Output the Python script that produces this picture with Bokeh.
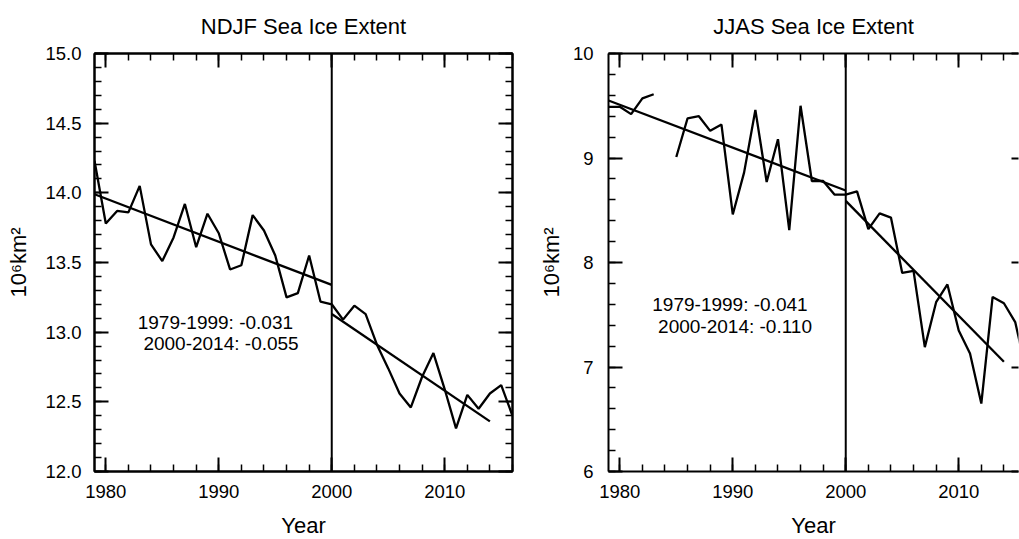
import numpy as np
from bokeh.plotting import figure
from bokeh.layouts import row
from bokeh.models import (LinearAxis, FixedTicker, Span, Label, Range1d,
                          PrintfTickFormatter, CustomLabelingPolicy)
from bokeh.embed import file_html
from bokeh.resources import INLINE

# ---------------- data ----------------
years = list(range(1979, 2017))
ndjf_extent = [14.23, 13.78, 13.87, 13.86, 14.05, 13.63, 13.51, 13.68, 13.92, 13.61,
               13.85, 13.71, 13.45, 13.48, 13.84, 13.73, 13.55, 13.25, 13.28, 13.55,
               13.22, 13.20, 13.09, 13.19, 13.13, 12.91, 12.74, 12.56, 12.46, 12.68,
               12.85, 12.59, 12.31, 12.55, 12.45, 12.56, 12.62, 12.40]
jjas_extent = [9.49, 9.49, 9.42, 9.57, 9.61, np.nan, 9.01, 9.38, 9.40, 9.26,
               9.32, 8.46, 8.86, 9.46, 8.77, 9.18, 8.31, 9.50, 8.78, 8.78,
               8.65, 8.65, 8.68, 8.32, 8.47, 8.43, 7.90, 7.92, 7.19, 7.62,
               7.79, 7.35, 7.13, 6.65, 7.67, 7.61, 7.43, 6.95]

split_year = 2000
period_labels = ["1979-1999", "2000-2014"]
trend_start = [1979, 2000]
trend_end = [2000, 2014]
ndjf_trend_y0 = [13.99, 13.13]
ndjf_trend_slope = [-0.031, -0.055]
jjas_trend_y0 = [9.55, 8.59]
jjas_trend_slope = [-0.041, -0.110]

titles = ["NDJF Sea Ice Extent", "JJAS Sea Ice Extent"]
x_ticks = [1980, 1990, 2000, 2010]
x_minor = list(range(1980, 2017, 2))
ndjf_y_ticks = [12.0, 12.5, 13.0, 13.5, 14.0, 14.5, 15.0]
ndjf_y_minor = [round(12.0 + 0.1 * i, 1) for i in range(31)]
jjas_y_ticks = [6, 7, 8, 9, 10]
jjas_y_minor = [round(6.0 + 0.2 * i, 1) for i in range(21)]

FONT = "Liberation Sans"
LW = 2.3
FRAME_H = 418
PX_PER_YEAR = 418 / 37


def style_axis(ax, show_labels=True, major_in=14, minor_in=7, line=True):
    ax.major_tick_in = major_in
    ax.major_tick_out = 0
    ax.minor_tick_in = minor_in
    ax.minor_tick_out = 0
    ax.major_tick_line_width = 2
    ax.minor_tick_line_width = 1.5
    ax.major_tick_line_color = "black"
    ax.minor_tick_line_color = "black" if minor_in > 0 else None
    ax.axis_line_width = 2
    ax.axis_line_color = "black" if line else None
    ax.major_label_text_font = FONT
    ax.major_label_text_color = "black"
    ax.axis_label_text_font = FONT
    ax.axis_label_text_font_style = "normal"
    ax.axis_label_text_color = "black"
    if show_labels:
        ax.major_label_text_font_size = "18.5px"
        ax.axis_label_text_font_size = "22px"
    else:
        ax.major_label_text_font_size = "0px"
        ax.major_label_standoff = 0
        ax.major_label_policy = CustomLabelingPolicy(code="return new Set()")


def make_panel(values, trend_y0, trend_slope, y_range, y_ticks, y_minor, y_fmt,
               title, frame_w, x_end, min_left, min_right, left_standoff, left_label_standoff,
               clipped_right):
    p = figure(frame_width=frame_w, frame_height=FRAME_H,
               x_range=Range1d(1979, x_end), y_range=Range1d(*y_range),
               output_backend="svg", toolbar_location=None,
               min_border_left=min_left, min_border_right=min_right,
               min_border_top=53, min_border_bottom=68,
               background_fill_color="white", border_fill_color="white")
    p.title.text = title
    p.title.text_font = FONT
    p.title.text_font_size = "22px"
    p.title.text_font_style = "normal"
    p.title.text_color = "black"
    p.title.align = "center"
    p.title.vertical_align = "top"
    p.title.standoff = 25
    if clipped_right:
        # the reference panel is 418 px wide but cut by the window edge
        p.title.offset = (418 - frame_w) / 2
    p.xgrid.visible = False
    p.ygrid.visible = False
    if clipped_right:
        p.outline_line_color = None
    else:
        p.outline_line_color = "black"
        p.outline_line_width = 2

    xt = FixedTicker(ticks=x_ticks, minor_ticks=x_minor)
    yt = FixedTicker(ticks=y_ticks, minor_ticks=y_minor)

    xb = p.xaxis[0]
    xb.ticker = xt
    xb.axis_label = "Year"
    style_axis(xb)
    xb.major_label_standoff = 13
    xb.axis_label_standoff = 12

    yl = p.yaxis[0]
    yl.ticker = yt
    yl.formatter = y_fmt
    yl.axis_label = "10⁶km²"
    style_axis(yl)
    yl.major_label_standoff = left_standoff
    yl.axis_label_standoff = left_label_standoff

    top = LinearAxis(ticker=FixedTicker(ticks=x_ticks, minor_ticks=x_minor))
    style_axis(top, show_labels=False)
    p.add_layout(top, "above")

    if clipped_right:
        right = LinearAxis(ticker=FixedTicker(ticks=y_ticks, minor_ticks=[]))
        style_axis(right, show_labels=False, major_in=7, minor_in=0, line=False)
    else:
        right = LinearAxis(ticker=FixedTicker(ticks=y_ticks, minor_ticks=y_minor))
        style_axis(right, show_labels=False)
    p.add_layout(right, "right")

    p.line(years, values, line_width=LW, line_color="black")

    x0 = np.array(trend_start, dtype=float)
    x1 = np.array(trend_end, dtype=float)
    y0 = np.array(trend_y0)
    y1 = y0 + np.array(trend_slope) * (x1 - x0)
    p.segment(x0=x0, y0=y0, x1=x1, y1=y1, line_width=LW, line_color="black")

    p.add_layout(Span(location=split_year, dimension="height",
                      line_color="black", line_width=2))
    return p, trend_slope


p1, s1 = make_panel(ndjf_extent, ndjf_trend_y0, ndjf_trend_slope, (12, 15),
                    ndjf_y_ticks, ndjf_y_minor, PrintfTickFormatter(format="%.1f"),
                    titles[0], 418, 2016, 94, 6, 13, 11, False)
p2, s2 = make_panel(jjas_extent, jjas_trend_y0, jjas_trend_slope, (6, 10),
                    jjas_y_ticks, jjas_y_minor, PrintfTickFormatter(format="%d"),
                    titles[1], 410, 1979 + 410 / PX_PER_YEAR, 90, 1, 15, 6, True)

label_pos = {
    "p1": [(1989.7, 13.07), (1990.2, 12.92)],
    "p2": [(1989.75, 7.60), (1990.2, 7.39)],
}
for p, slopes, key in ((p1, s1, "p1"), (p2, s2, "p2")):
    for i, (lx, ly) in enumerate(label_pos[key]):
        p.add_layout(Label(x=lx, y=ly, text=f"{period_labels[i]}: {slopes[i]:.3f}",
                           text_align="center", text_baseline="middle",
                           text_font=FONT, text_font_size="19px", text_color="black"))

layout = row(p1, p2)
open("out.html", "w").write(file_html(layout, INLINE))
